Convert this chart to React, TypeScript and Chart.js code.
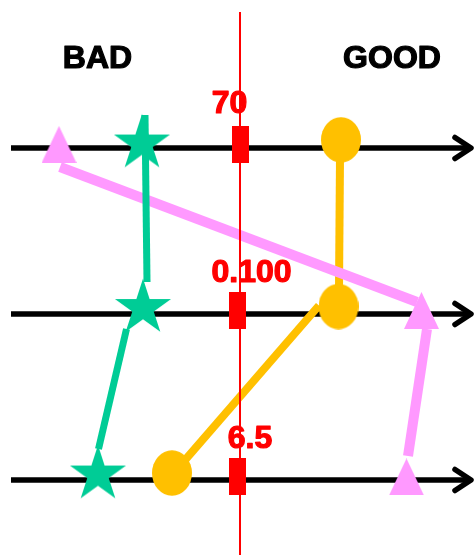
import React, { useEffect, useRef } from 'react';
import { Chart, registerables } from 'chart.js';

Chart.register(...registerables);

// ---- data (data units: x = bad(-) / good(+), y = metric rows) ----
const ROWS = [3, 2, 1];
const AXIS_Y = [2.979, 1.979, 0.979];
const AXIS_START = -1.145;
const AXIS_END = 1.155;

const THRESHOLD_LABELS = ['70', '0.100', '6.5'];
const THRESHOLD_X = [0.0025, -0.0125, -0.0125];
const THRESHOLD_LABEL_X = [-0.0525, 0.0575, 0.05];
const THRESHOLD_LABEL_Y = [3.1898, 2.1717, 1.1717];

const SIDE_LABELS = ['BAD', 'GOOD'];
const SIDE_LABEL_X = [-0.7125, 0.76];
const SIDE_LABEL_Y = [3.4608, 3.4608];

const DIVIDER_X = 0;
const DIVIDER_Y = [3.798, 0.527];

const STAR_X = [-0.49, -0.485, -0.71];
const STAR_Y = [3.006, 2.015, 1.012];
const CIRCLE_X = [0.505, 0.4925, -0.34];
const CIRCLE_Y = [3.028, 2.024, 1.021];
const TRIANGLE_X = [-0.905, 0.9075, 0.8325];
const TRIANGLE_Y = [3, 2, 0.997];

// connecting links: [x1, y1, x2, y2]
const GREEN_LINKS = [
  [-0.475, 3.1777, -0.465, 2.1717],
  [-0.5675, 1.8886, -0.7075, 1.1657],
];
const ORANGE_LINKS = [
  [0.5, 2.9187, 0.495, 2.1355],
  [0.395, 2.0301, -0.285, 1.0855],
];
const PINK_LINKS = [
  [-0.9, 2.8645, 0.885, 2.0512],
  [0.935, 1.8886, 0.84, 1.1235],
];

const X_MIN = -1.2;
const X_MAX = 1.175;
const Y_MIN = 0.52711;
const Y_MAX = 3.87048;

const GREEN = '#00CC96';
const ORANGE = '#FFC000';
const PINK = '#FF99FF';
const RED = '#FF0000';
const FONT = 'bold 32px "Liberation Sans", Arial, sans-serif';

function makeCanvas(w: number, h: number) {
  const c = document.createElement('canvas');
  c.width = w;
  c.height = h;
  return c;
}

function makeStar(color: string) {
  const size = 62;
  const c = makeCanvas(size, size);
  const ctx = c.getContext('2d')!;
  const cx = size / 2;
  const cy = size / 2;
  const R = 29.5;
  const r = R * 0.382;
  ctx.beginPath();
  for (let i = 0; i < 10; i++) {
    const a = -Math.PI / 2 + (i * Math.PI) / 5;
    const rad = i % 2 === 0 ? R : r;
    const px = cx + rad * Math.cos(a);
    const py = cy + rad * Math.sin(a);
    if (i === 0) ctx.moveTo(px, py);
    else ctx.lineTo(px, py);
  }
  ctx.closePath();
  ctx.fillStyle = color;
  ctx.fill();
  return c;
}

function makeEllipse(color: string) {
  const c = makeCanvas(40, 46);
  const ctx = c.getContext('2d')!;
  ctx.beginPath();
  ctx.ellipse(20, 23, 20, 22.75, 0, 0, Math.PI * 2);
  ctx.fillStyle = color;
  ctx.fill();
  return c;
}

function makeTriangle(color: string) {
  const c = makeCanvas(35, 37);
  const ctx = c.getContext('2d')!;
  ctx.beginPath();
  ctx.moveTo(17.5, 0);
  ctx.lineTo(35, 37);
  ctx.lineTo(0, 37);
  ctx.closePath();
  ctx.fillStyle = color;
  ctx.fill();
  return c;
}

function makeRect(color: string) {
  const c = makeCanvas(17, 37);
  const ctx = c.getContext('2d')!;
  ctx.fillStyle = color;
  ctx.fillRect(0, 0, 17, 37);
  return c;
}

function linkDatasets(links: number[][], color: string, width: number, order: number) {
  return links.map((l) => ({
    type: 'line' as const,
    data: [
      { x: l[0], y: l[1] },
      { x: l[2], y: l[3] },
    ],
    borderColor: color,
    borderWidth: width,
    borderCapStyle: 'butt' as const,
    pointRadius: 0,
    fill: false,
    tension: 0,
    order,
  }));
}

function markerDataset(xs: number[], ys: number[], img: HTMLCanvasElement, order: number) {
  return {
    type: 'line' as const,
    data: xs.map((x, i) => ({ x, y: ys[i] })),
    showLine: false,
    pointStyle: img,
    pointRadius: 10,
    pointHoverRadius: 10,
    borderWidth: 0,
    order,
  };
}

function drawHeavyText(ctx: CanvasRenderingContext2D, t: string, x: number, y: number, color: string) {
  ctx.fillStyle = color;
  ctx.strokeStyle = color;
  ctx.lineWidth = 1.2;
  ctx.lineJoin = 'round';
  ctx.fillText(t, x, y);
  ctx.strokeText(t, x, y);
}

const overlayPlugin = {
  id: 'overlay',
  afterDatasetsDraw(chart: any) {
    const ctx: CanvasRenderingContext2D = chart.ctx;
    const xs = chart.scales.x;
    const ys = chart.scales.y;
    ctx.save();
    // arrow heads at the end of each axis line
    ctx.strokeStyle = '#000';
    ctx.lineWidth = 5.5;
    ctx.lineCap = 'round';
    ctx.lineJoin = 'round';
    AXIS_Y.forEach((ay) => {
      const px = xs.getPixelForValue(AXIS_END);
      const py = ys.getPixelForValue(ay);
      ctx.beginPath();
      ctx.moveTo(px - 16, py - 10.5);
      ctx.lineTo(px, py);
      ctx.lineTo(px - 16, py + 10.5);
      ctx.stroke();
    });
    // texts
    ctx.font = FONT;
    ctx.textAlign = 'center';
    ctx.textBaseline = 'alphabetic';
    SIDE_LABELS.forEach((t, i) => {
      drawHeavyText(ctx, t, xs.getPixelForValue(SIDE_LABEL_X[i]), ys.getPixelForValue(SIDE_LABEL_Y[i]), '#000');
    });
    THRESHOLD_LABELS.forEach((t, i) => {
      drawHeavyText(ctx, t, xs.getPixelForValue(THRESHOLD_LABEL_X[i]), ys.getPixelForValue(THRESHOLD_LABEL_Y[i]), RED);
    });
    ctx.restore();
  },
};

export default function App() {
  const ref = useRef<HTMLCanvasElement>(null);

  useEffect(() => {
    const canvas = ref.current;
    if (!canvas) return;

    const axisDatasets = AXIS_Y.map((ay) => ({
      type: 'line' as const,
      data: [
        { x: AXIS_START, y: ay },
        { x: AXIS_END, y: ay },
      ],
      borderColor: '#000',
      borderWidth: 5.5,
      borderCapStyle: 'butt' as const,
      pointRadius: 0,
      fill: false,
      order: 20,
    }));

    const divider = {
      type: 'line' as const,
      data: DIVIDER_Y.map((y) => ({ x: DIVIDER_X, y })),
      borderColor: RED,
      borderWidth: 2,
      borderCapStyle: 'butt' as const,
      pointRadius: 0,
      fill: false,
      order: 6,
    };

    const datasets: any[] = [
      ...axisDatasets,
      ...linkDatasets(ORANGE_LINKS, ORANGE, 8, 12),
      ...linkDatasets(PINK_LINKS, PINK, 10, 11),
      ...linkDatasets(GREEN_LINKS, GREEN, 7, 10),
      divider,
      markerDataset(THRESHOLD_X, ROWS, makeRect(RED), 5),
      markerDataset(CIRCLE_X, CIRCLE_Y, makeEllipse(ORANGE), 4),
      markerDataset(TRIANGLE_X, TRIANGLE_Y, makeTriangle(PINK), 3),
      markerDataset(STAR_X, STAR_Y, makeStar(GREEN), 2),
    ];

    const chart = new Chart(canvas, {
      type: 'line',
      data: { datasets },
      options: {
        animation: false,
        responsive: false,
        devicePixelRatio: 1,
        events: [],
        layout: { padding: 0, autoPadding: false },
        plugins: {
          legend: { display: false },
          tooltip: { enabled: false },
          title: { display: false },
        },
        scales: {
          x: { type: 'linear', min: X_MIN, max: X_MAX, display: false },
          y: { type: 'linear', min: Y_MIN, max: Y_MAX, display: false },
        },
      },
      plugins: [overlayPlugin],
    } as any);

    return () => chart.destroy();
  }, []);

  return (
    <div style={{ position: 'fixed', left: 0, top: 0, width: 475, height: 555, background: '#fff' }}>
      <canvas ref={ref} width={475} height={555} style={{ display: 'block', width: 475, height: 555 }} />
    </div>
  );
}
